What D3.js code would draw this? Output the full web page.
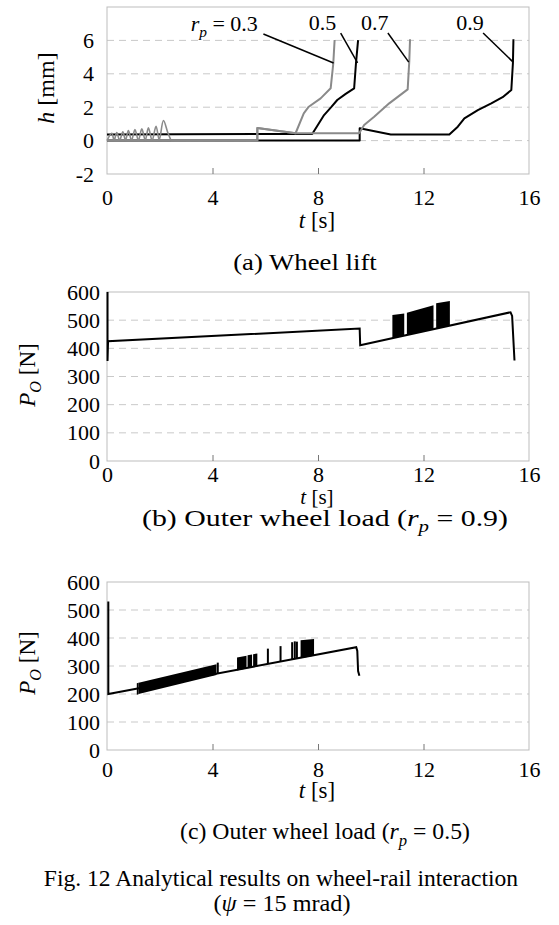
<!DOCTYPE html>
<html>
<head>
<meta charset="utf-8">
<script src="https://cdn.jsdelivr.net/npm/d3@7"></script>
<style>
  body { margin: 0; background: #fff; }
  svg { display: block; }
  svg text { font-family: "Liberation Serif", "Times New Roman", serif; }
</style>
</head>
<body>
<svg id="fig" width="559" height="925"></svg>
<script>
// ---- data ----
const tTicks = [0, 4, 8, 12, 16];
const hTicks = [-2, 0, 2, 4, 6];
const hGrid = [0, 2, 4, 6];
const pTicks = [0, 100, 200, 300, 400, 500, 600];
const pGrid = [100, 200, 300, 400, 500];

// (a) wheel lift h [mm] for each r_p
const rpNames = ["0.3", "0.5", "0.7", "0.9"];
// r_p = 0.3: start-up oscillation, then the rest
const osc03T = [0, 0.18, 0.27, 0.37, 0.48, 0.6, 0.7, 0.81, 0.93, 1.06, 1.19, 1.32, 1.45, 1.57, 1.71, 1.86, 1.98, 2.14, 2.3, 2.43];
const osc03H = [0, 0.44, 0.02, 0.48, 0.02, 0.52, 0.02, 0.6, 0.02, 0.66, 0.02, 0.7, 0.02, 0.76, 0.02, 0.86, 0.05, 1.2, 0.5, 0];
const lift03T = [2.43, 5.7, 5.7, 7.15, 7.46, 7.65, 8.1, 8.48, 8.58, 8.63];
const lift03H = [0, 0, 0.75, 0.44, 1.63, 2.03, 2.53, 3.13, 4.63, 6.02];
const lift05T = [0, 7.78, 8.0, 8.23, 8.5, 8.73, 9.05, 9.37, 9.44, 9.52];
const lift05H = [0.36, 0.4, 0.95, 1.53, 2.0, 2.43, 2.8, 3.13, 4.63, 6.02];
const lift07T = [0, 5.7, 5.7, 7.15, 9.56, 9.75, 10.13, 10.7, 11.4, 11.46, 11.49];
const lift07H = [0, 0, 0.75, 0.44, 0.44, 0.93, 1.43, 2.23, 3.07, 4.73, 6.07];
const lift09T = [0, 9.58, 9.58, 10.76, 12.98, 13.3, 13.55, 14.06, 14.57, 15.0, 15.33, 15.39, 15.41];
const lift09H = [0, 0, 0.74, 0.36, 0.36, 0.83, 1.33, 1.83, 2.23, 2.6, 3.03, 4.63, 6.07];

// (b) outer wheel load, r_p = 0.9
const loadBT = [0.02, 0.02, 0.04, 9.58, 9.6, 15.3, 15.36, 15.45];
const loadBV = [600, 355, 425, 470, 411, 528, 515, 357];
const burstBT0 = [10.82, 11.37, 12.48];
const burstBT1 = [11.27, 12.38, 13.0];
const burstBLo0 = [436, 448, 470];
const burstBLo1 = [446, 468, 480];
const burstBHi0 = [518, 526, 560];
const burstBHi1 = [524, 553, 568];

// (c) outer wheel load, r_p = 0.5
const loadCT = [0.05, 0.05, 9.45, 9.49, 9.52, 9.57];
const loadCV = [530, 200, 367, 354, 282, 265];
const burstCT0 = [1.13, 1.2, 4.93, 5.33, 5.54, 7.34];
const burstCT1 = [1.2, 4.15, 5.29, 5.5, 5.7, 7.85];
const burstCLo0 = [197, 200, 284, 292, 296, 328];
const burstCLo1 = [199, 268, 291, 295, 298, 337];
const burstCHi0 = [238, 240, 330, 338, 342, 392];
const burstCHi1 = [240, 306, 337, 341, 345, 396];
const spikeCT = [4.2, 6.1, 6.58, 7.02, 7.12, 7.2];
const spikeCLo = [272, 308, 316, 324, 326, 327];
const spikeCHi = [312, 362, 371, 385, 388, 387];

// ---- drawing ----
const svg = d3.select("#fig");
const SERIF = '"Liberation Serif", "Times New Roman", serif';
const GRID = "#c9c9c9", FRAME = "#bdbdbd", GRAY = "#8a8a8a", TICK = 22, TITLE = 23;

const x = d3.scaleLinear().domain([0, 16]).range([107, 529]);

function rich(sel, parts, size) {
  let shift = 0;
  parts.forEach(([s, k]) => {
    const t = sel.append("tspan").text(s);
    if (k) t.attr("font-style", "italic");
    if (k === "sub") { t.attr("font-size", size * 0.7).attr("dy", size * 0.28); shift = size * 0.28; }
    else if (shift) { t.attr("dy", -shift); shift = 0; }
  });
  return sel;
}

function panel(y, yTicks, grid, xPad, yPad) {
  const [bot, top] = y.range();
  svg.append("g").selectAll("line").data(grid).join("line")
    .attr("x1", x(0)).attr("x2", x(16))
    .attr("y1", d => y(d)).attr("y2", d => y(d))
    .attr("stroke", GRID).attr("stroke-dasharray", "7,5");
  svg.append("rect")
    .attr("x", x(0)).attr("y", top)
    .attr("width", x(16) - x(0)).attr("height", bot - top)
    .attr("fill", "none").attr("stroke", FRAME);

  const gx = svg.append("g").attr("transform", `translate(0,${bot})`)
    .call(d3.axisBottom(x).tickValues(tTicks).tickSize(-6).tickPadding(xPad).tickFormat(d => String(d)));
  gx.select(".domain").remove();
  gx.selectAll(".tick line").attr("stroke", "#777").filter(d => d === 0 || d === 16).remove();
  gx.selectAll("text").attr("fill", "#000").style("font-family", SERIF).style("font-size", TICK + "px");

  const gy = svg.append("g").attr("transform", `translate(${x(0)},0)`)
    .call(d3.axisLeft(y).tickValues(yTicks).tickSize(0).tickPadding(yPad).tickFormat(d => String(d)));
  gy.select(".domain").remove();
  gy.selectAll("text").attr("fill", "#000").style("font-family", SERIF).style("font-size", TICK + "px");
}

function lineOf(ts, vs, y, curve = d3.curveLinear) {
  return d3.line().curve(curve).x((d, i) => x(ts[i])).y(d => y(d))(vs);
}

function text(px, py, parts, size, anchor = "middle") {
  return rich(svg.append("text").attr("x", px).attr("y", py)
    .attr("text-anchor", anchor).attr("font-size", size), parts, size);
}

// caption stretched horizontally to the width it has in the figure
function caption(cx, py, parts, size, width) {
  const t = text(cx, py, parts, size);
  const k = width / t.node().getBBox().width;
  t.attr("transform", `translate(${cx},0) scale(${k},1) translate(${-cx},0)`);
}

// (a) wheel lift
const yA = d3.scaleLinear().domain([-2, 8]).range([174, 7]);
panel(yA, hTicks, hGrid, 15, 13);
[[lift09T, lift09H, "#000"], [lift05T, lift05H, "#000"], [lift07T, lift07H, GRAY], [lift03T, lift03H, GRAY]]
  .forEach(([ts, hs, c]) => svg.append("path").attr("d", lineOf(ts, hs, yA))
    .attr("fill", "none").attr("stroke", c).attr("stroke-width", 2).attr("stroke-linejoin", "round"));
svg.append("path").attr("d", lineOf(osc03T, osc03H, yA, d3.curveCatmullRom))
  .attr("fill", "none").attr("stroke", GRAY).attr("stroke-width", 1.6);

// leader labels: text anchor (t, h) and leader from/to (t, h)
const rpLabelAt = [[5.72, 6.55, "end"], [8.17, 6.6, "middle"], [10.15, 6.6, "middle"], [13.76, 6.6, "middle"]];
const rpLeader = [[5.93, 6.38, 8.59, 4.65], [8.86, 6.44, 9.5, 4.65], [10.65, 6.44, 11.44, 4.7], [14.26, 6.44, 15.4, 4.7]];
rpNames.forEach((n, i) => {
  const [lt, lh, anchor] = rpLabelAt[i];
  const parts = i === 0 ? [["r", "i"], ["p", "sub"], [" = " + n, ""]] : [[n, ""]];
  text(x(lt), yA(lh), parts, TICK, anchor);
  const [t1, h1, t2, h2] = rpLeader[i];
  svg.append("line").attr("x1", x(t1)).attr("y1", yA(h1)).attr("x2", x(t2)).attr("y2", yA(h2))
    .attr("stroke", "#000").attr("stroke-width", 1.5);
});
svg.append("text").attr("transform", "translate(54,88) rotate(-90)").attr("text-anchor", "middle")
  .attr("font-size", 24).call(s => rich(s, [["h", "i"], [" [mm]", ""]], 24));
text(317, 228, [["t", "i"], [" [s]", ""]], TITLE);
caption(305, 270, [["(a) Wheel lift", ""]], 24, 144);

// (b) outer wheel load r_p = 0.9
const yB = d3.scaleLinear().domain([0, 600]).range([461, 292]);
panel(yB, pTicks, pGrid, 5, 7);
const band = d3.area().x(d => x(d.t)).y0(d => d.y0).y1(d => d.y1);
burstBT0.forEach((t0, i) => svg.append("path").attr("fill", "#000").attr("d", band([
  { t: t0, y0: yB(burstBLo0[i]), y1: yB(burstBHi0[i]) },
  { t: burstBT1[i], y0: yB(burstBLo1[i]), y1: yB(burstBHi1[i]) }])));
svg.append("path").attr("d", lineOf(loadBT, loadBV, yB))
  .attr("fill", "none").attr("stroke", "#000").attr("stroke-width", 2);
svg.append("text").attr("transform", "translate(35,375) rotate(-90)").attr("text-anchor", "middle")
  .attr("font-size", TITLE).call(s => rich(s, [["P", "i"], ["O", "sub"], [" [N]", ""]], TITLE));
text(317, 504, [["t", "i"], [" [s]", ""]], 21);
caption(325, 526, [["(b) Outer wheel load (", ""], ["r", "i"], ["p", "sub"], [" = 0.9)", ""]], 23, 366);

// (c) outer wheel load r_p = 0.5
const yC = d3.scaleLinear().domain([0, 600]).range([750, 582]);
panel(yC, pTicks, pGrid, 11, 7);
burstCT0.forEach((t0, i) => svg.append("path").attr("fill", "#000").attr("d", band([
  { t: t0, y0: yC(burstCLo0[i]), y1: yC(burstCHi0[i]) },
  { t: burstCT1[i], y0: yC(burstCLo1[i]), y1: yC(burstCHi1[i]) }])));
svg.append("g").selectAll("line").data(spikeCT).join("line")
  .attr("x1", d => x(d)).attr("x2", d => x(d))
  .attr("y1", (d, i) => yC(spikeCLo[i])).attr("y2", (d, i) => yC(spikeCHi[i]))
  .attr("stroke", "#000").attr("stroke-width", 2);
svg.append("path").attr("d", lineOf(loadCT, loadCV, yC))
  .attr("fill", "none").attr("stroke", "#000").attr("stroke-width", 2);
svg.append("text").attr("transform", "translate(35,663) rotate(-90)").attr("text-anchor", "middle")
  .attr("font-size", TITLE).call(s => rich(s, [["P", "i"], ["O", "sub"], [" [N]", ""]], TITLE));
text(317, 798, [["t", "i"], [" [s]", ""]], TITLE);
caption(325, 839, [["(c) Outer wheel load (", ""], ["r", "i"], ["p", "sub"], [" = 0.5)", ""]], 24, 290);

// figure caption
caption(281, 886, [["Fig. 12 Analytical results on wheel-rail interaction", ""]], 23.5, 475);
caption(282, 911, [["(", ""], ["ψ", "i"], [" = 15 mrad)", ""]], 24, 137);
</script>
</body>
</html>
